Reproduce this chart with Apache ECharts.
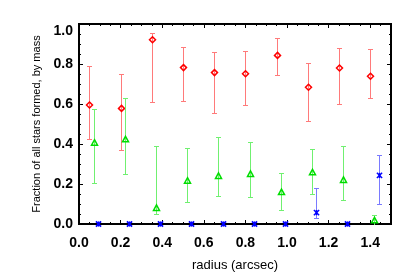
<!DOCTYPE html>
<html>
<head>
<meta charset="utf-8">
<script src="https://cdn.jsdelivr.net/npm/echarts@6/dist/echarts.min.js"></script>
<style>html,body{margin:0;padding:0;background:#fff}#c{width:415px;height:277px}</style>
</head>
<body>
<div id="c"></div>
<script>
// ---- data ----
var radiusRed   = [0.05, 0.20, 0.35, 0.50, 0.65, 0.80, 0.95, 1.10, 1.25, 1.40];
var fracRed     = [0.595, 0.578, 0.921, 0.782, 0.757, 0.751, 0.843, 0.684, 0.780, 0.739];
var redLow      = [0.426, 0.369, 0.610, 0.613, 0.553, 0.594, 0.744, 0.513, 0.602, 0.631];
var redHigh     = [0.790, 0.749, 0.955, 0.885, 0.858, 0.866, 0.929, 0.804, 0.880, 0.877];

var radiusGreen = [0.07, 0.22, 0.37, 0.52, 0.67, 0.82, 0.97, 1.12, 1.27, 1.42];
var fracGreen   = [0.404, 0.421, 0.078, 0.214, 0.238, 0.248, 0.157, 0.256, 0.218, 0.016];
var greenLow    = [0.207, 0.248, 0.049, 0.110, 0.141, 0.134, 0.071, 0.150, 0.121, 0.000];
var greenHigh   = [0.574, 0.631, 0.388, 0.379, 0.437, 0.411, 0.254, 0.374, 0.392, 0.044];

var radiusBlue  = [0.09, 0.24, 0.39, 0.54, 0.69, 0.84, 0.99, 1.14, 1.29, 1.44];
var fracBlue    = [0, 0, 0, 0, 0, 0, 0, 0.057, 0, 0.243];
var blueLow     = [0, 0, 0, 0, 0, 0, 0, 0.029, 0, 0.102];
var blueHigh    = [0, 0, 0, 0, 0, 0, 0, 0.181, 0, 0.346];

var xTitle = 'radius (arcsec)';
var yTitle = 'Fraction of all stars formed, by mass';

// ---- helpers ----
function errSeries(xs, ys, lo, hi, markColor, barColor, marker) {
  return {
    type: 'custom',
    xAxisIndex: 0, yAxisIndex: 0,
    clip: false,
    z: 5,
    data: xs.map(function (x, i) { return [x, ys[i], lo[i], hi[i]]; }),
    renderItem: function (params, api) {
      var x = api.value(0), y = api.value(1), l = api.value(2), h = api.value(3);
      var pc = api.coord([x, y]);
      var pl = api.coord([x, l]);
      var ph = api.coord([x, h]);
      var px = Math.round(pc[0]);
      var children = [];
      var bf = { fill: barColor, stroke: null };
      if (h > l) {
        var yt = Math.round(ph[1]), yb = Math.round(pl[1]);
        children.push({ type: 'rect', shape: { x: px, y: yt, width: 1, height: yb - yt + 1 }, style: bf });
        children.push({ type: 'rect', shape: { x: px - 2, y: yt, width: 5, height: 1 }, style: bf });
        if (l > 0) children.push({ type: 'rect', shape: { x: px - 2, y: yb, width: 5, height: 1 }, style: bf });
      }
      var cx = px + 0.5, cy = pc[1];
      var ms = { stroke: markColor, lineWidth: 1.5, fill: null };
      if (marker === 'diamond') {
        children.push({ type: 'polygon', shape: { points: [[cx, cy - 3], [cx + 3, cy], [cx, cy + 3], [cx - 3, cy]] }, style: ms });
      } else if (marker === 'triangle') {
        children.push({ type: 'polygon', shape: { points: [[cx, cy - 3.5], [cx + 3, cy + 2], [cx - 3, cy + 2]] }, style: ms });
      } else {
        var r = 2.6;
        children.push({ type: 'line', shape: { x1: cx - r, y1: cy - r, x2: cx + r, y2: cy + r }, style: ms });
        children.push({ type: 'line', shape: { x1: cx - r, y1: cy + r, x2: cx + r, y2: cy - r }, style: ms });
        children.push({ type: 'line', shape: { x1: cx, y1: cy - r, x2: cx, y2: cy + r }, style: ms });
      }
      return { type: 'group', children: children };
    }
  };
}

var lineStyle = { color: '#000', width: 2 };
var labelFont = { color: '#000', fontSize: 14, fontWeight: 'bold', fontFamily: 'Liberation Sans, Arial, sans-serif' };

function xAx(pos, interval, len, withLabels) {
  return {
    type: 'value', position: pos, min: 0, max: 1.5, interval: interval,
    axisLine: { show: true, lineStyle: lineStyle, onZero: false },
    axisTick: { show: true, inside: true, length: len, lineStyle: { color: '#000', width: 1 } },
    splitLine: { show: false },
    axisLabel: withLabels ? Object.assign({ show: true, margin: 12, showMaxLabel: false,
      formatter: function (v) { return v.toFixed(1); } }, labelFont) : { show: false },
    name: withLabels ? xTitle : '',
    nameLocation: 'middle', nameGap: 35,
    nameTextStyle: { color: '#000', fontSize: 13, fontFamily: 'Liberation Sans, Arial, sans-serif' }
  };
}
function yAx(pos, interval, len, withLabels) {
  return {
    type: 'value', position: pos, min: 0, max: 1.0, interval: interval,
    axisLine: { show: true, lineStyle: lineStyle, onZero: false },
    axisTick: { show: true, inside: true, length: len, lineStyle: { color: '#000', width: 1 } },
    splitLine: { show: false },
    axisLabel: withLabels ? Object.assign({ show: true, margin: 6, verticalAlignMaxLabel: 'top',
      formatter: function (v) { return v.toFixed(1); } }, labelFont) : { show: false },
    name: withLabels ? yTitle : '',
    nameLocation: 'middle', nameGap: 35,
    nameTextStyle: { color: '#000', fontSize: 11, fontFamily: 'Liberation Sans, Arial, sans-serif' }
  };
}

var chart = echarts.init(document.getElementById('c'), null, { renderer: 'canvas' });
chart.setOption({
  animation: false,
  backgroundColor: '#fff',
  grid: { left: 79, right: 24, top: 24, bottom: 47, containLabel: false },
  xAxis: [
    xAx('bottom', 0.2, 4, true),
    xAx('bottom', 0.05, 2, false),
    xAx('top', 0.2, 4, false),
    xAx('top', 0.05, 2, false)
  ],
  yAxis: [
    yAx('left', 0.2, 4, true),
    yAx('left', 0.05, 2, false),
    yAx('right', 0.2, 4, false),
    yAx('right', 0.05, 2, false)
  ],
  series: [
    errSeries(radiusRed, fracRed, redLow, redHigh, '#ff0000', '#ff7a7a', 'diamond'),
    errSeries(radiusGreen, fracGreen, greenLow, greenHigh, '#00dd00', '#70f070', 'triangle'),
    errSeries(radiusBlue, fracBlue, blueLow, blueHigh, '#0000ff', '#7a7aff', 'asterisk')
  ]
});
</script>
</body>
</html>
